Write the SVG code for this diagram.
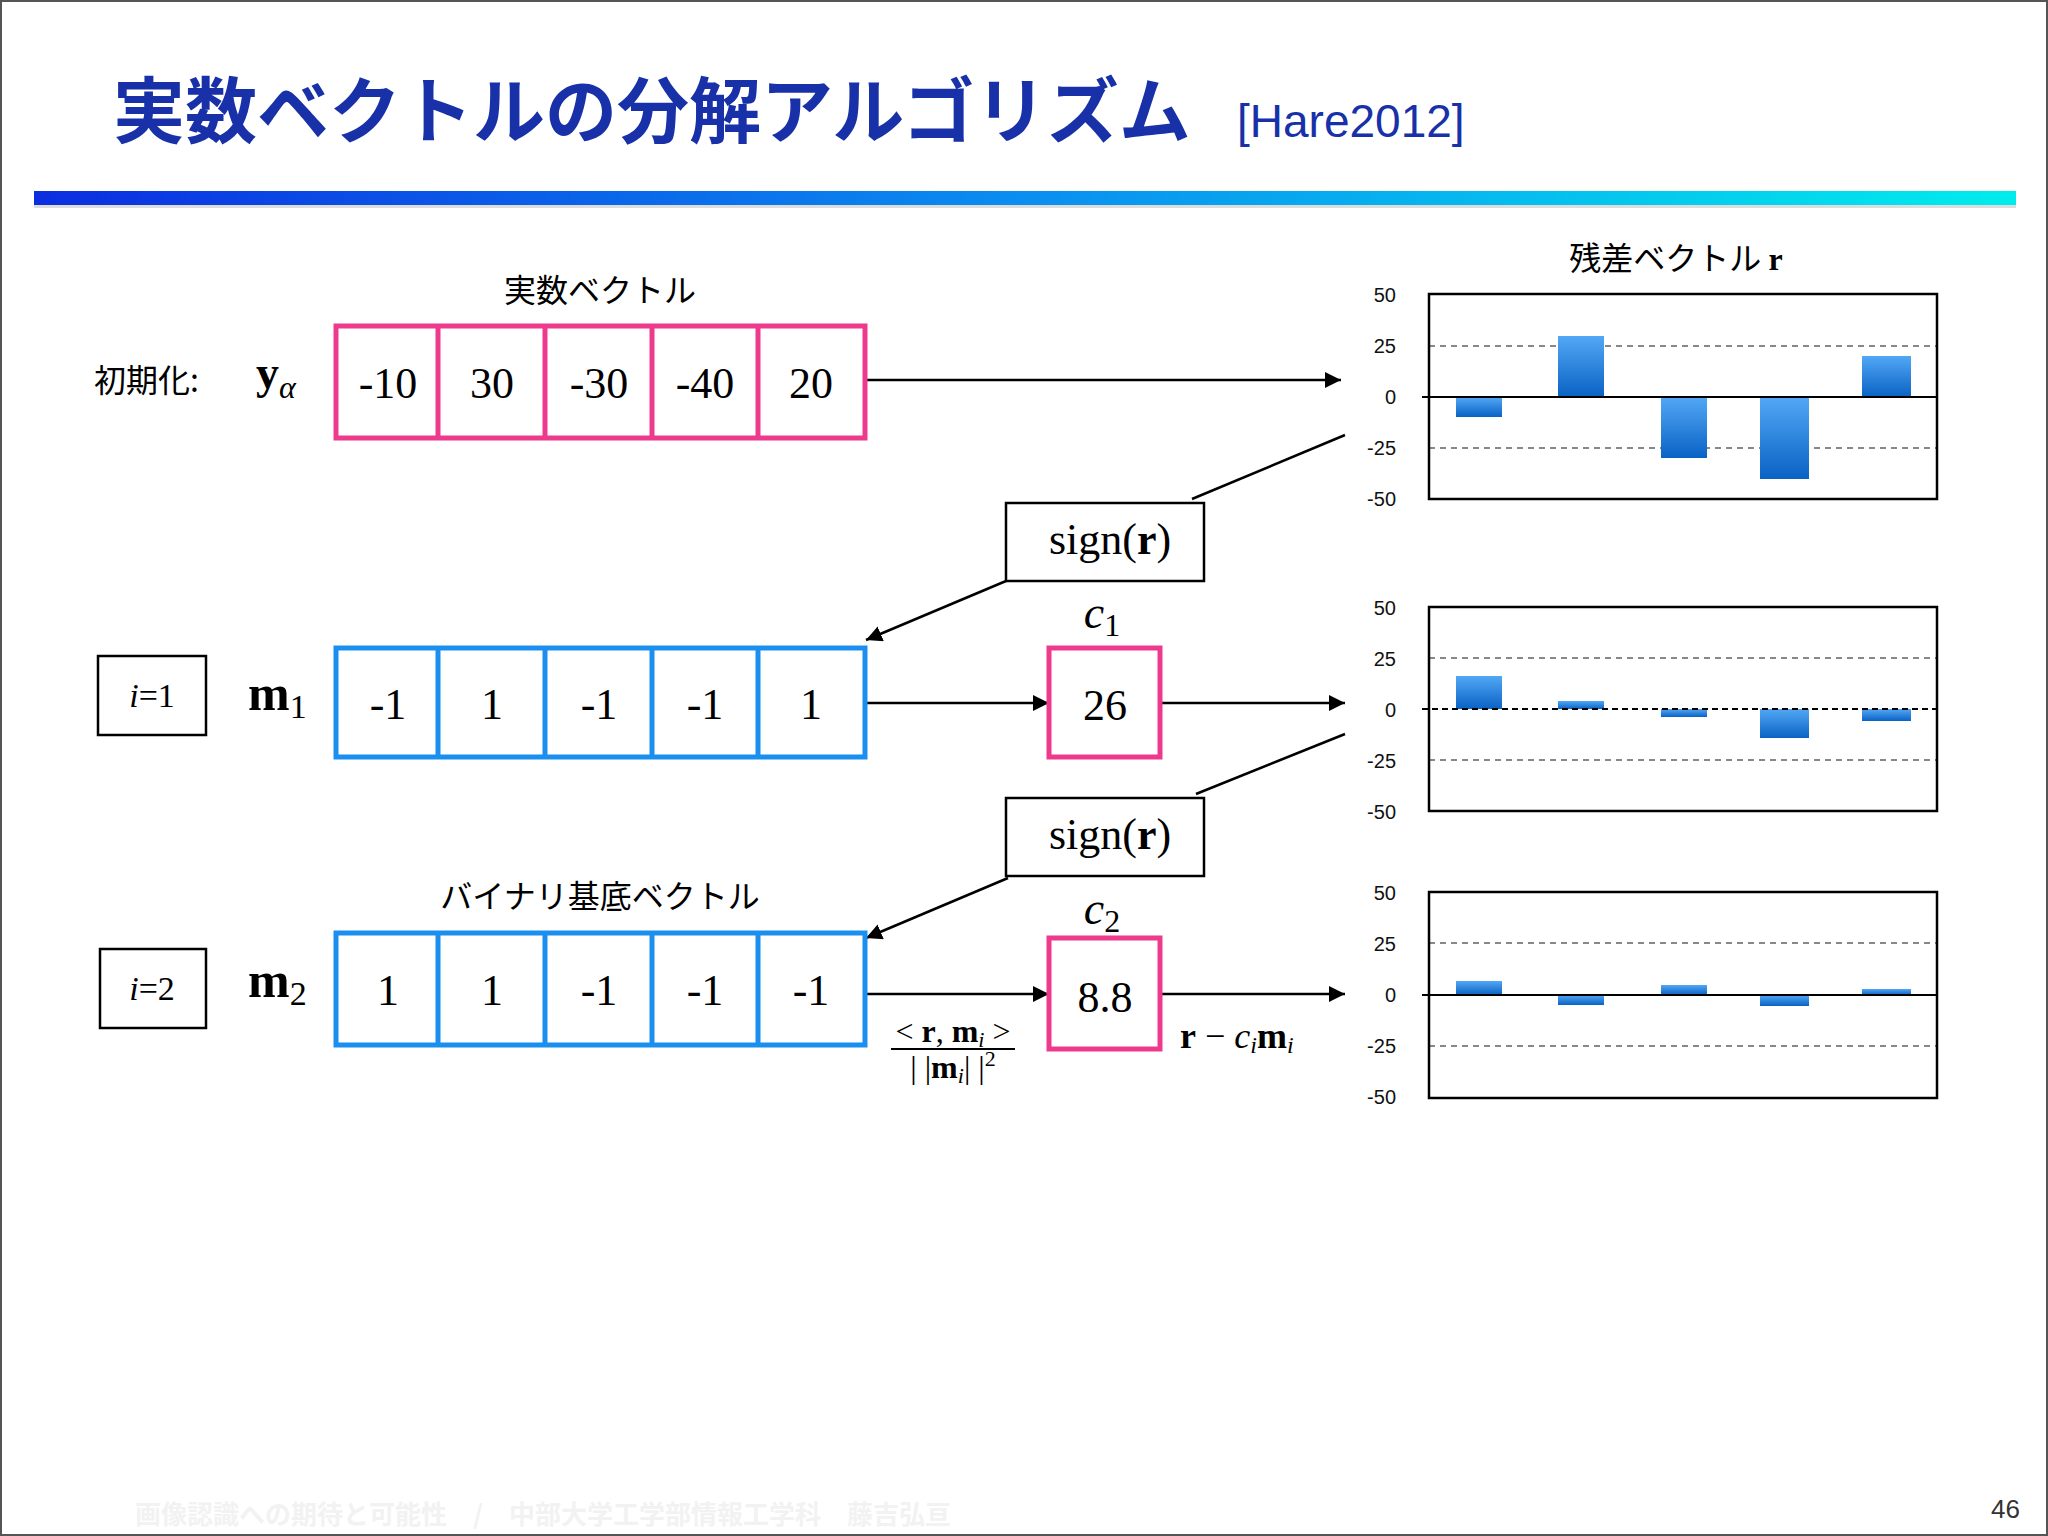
<svg xmlns="http://www.w3.org/2000/svg" width="2048" height="1536" viewBox="0 0 2048 1536">
<defs>
<linearGradient id="hdr" x1="0" x2="1" y1="0" y2="0"><stop offset="0" stop-color="#0b2ee0"/><stop offset="0.5" stop-color="#0a8ef0"/><stop offset="1" stop-color="#00ecec"/></linearGradient>
<linearGradient id="bar" x1="0" x2="0" y1="0" y2="1"><stop offset="0" stop-color="#52a8f5"/><stop offset="1" stop-color="#0a62c4"/></linearGradient>
<marker id="ah2" viewBox="0 0 10 10" refX="10" refY="5" markerWidth="16" markerHeight="16" markerUnits="userSpaceOnUse" orient="auto"><path d="M0,0 L10,5 L0,10 z" fill="#000"/></marker>
</defs>
<style>
.jp{font-family:"Noto Sans CJK JP","Noto Sans",sans-serif}
.sf{font-family:"Liberation Serif","DejaVu Serif",serif}
.ss{font-family:"Liberation Sans",Arial,sans-serif}
.pk{fill:none;stroke:#ee3a8c;stroke-width:5}
.bl{fill:none;stroke:#1a8ff0;stroke-width:5}
.bx{fill:#fff;stroke:#000;stroke-width:2.5}
.cell{font-size:44px;text-anchor:middle;fill:#000}
.ax{font-size:20px;text-anchor:end;fill:#111}
.ln{stroke:#000;stroke-width:2.5;fill:none}
.dash{stroke:#888;stroke-width:2;stroke-dasharray:6 5}
.frame{fill:none;stroke:#000;stroke-width:2.5}
</style>
<rect width="2048" height="1536" fill="#fff"/>
<rect x="1" y="1" width="2046" height="1534" fill="none" stroke="#555" stroke-width="2"/>
<text x="113" y="137" class="jp" font-size="72" font-weight="bold" fill="#1830a8">実数ベクトルの分解アルゴリズム</text>
<text x="1237" y="137" class="ss" font-size="46" fill="#1830a8">[Hare2012]</text>
<rect x="34" y="196" width="1982" height="12" fill="#bbb" opacity="0.5"/>
<rect x="34" y="191" width="1982" height="14" fill="url(#hdr)"/>
<text x="135" y="1524" class="jp" font-size="26" font-weight="bold" fill="#f2f2f2">画像認識への期待と可能性　/　中部大学工学部情報工学科　藤吉弘亘</text>
<text x="2020" y="1518" class="ss" font-size="26" text-anchor="end" fill="#333">46</text>

<g id="connectors">
<line class="ln" x1="865" y1="380" x2="1341" y2="380" marker-end="url(#ah2)"/>
<line class="ln" x1="1192" y1="499" x2="1345" y2="435"/>
<line class="ln" x1="1006" y1="581" x2="866" y2="640" marker-end="url(#ah2)"/>
<line class="ln" x1="865" y1="703" x2="1049" y2="703" marker-end="url(#ah2)"/>
<line class="ln" x1="1160" y1="703" x2="1345" y2="703" marker-end="url(#ah2)"/>
<line class="ln" x1="1196" y1="794" x2="1345" y2="734"/>
<line class="ln" x1="1008" y1="878" x2="866" y2="938" marker-end="url(#ah2)"/>
<line class="ln" x1="865" y1="994" x2="1049" y2="994" marker-end="url(#ah2)"/>
<line class="ln" x1="1160" y1="994" x2="1345" y2="994" marker-end="url(#ah2)"/>
</g>

<g id="ya">
<text x="600" y="302" class="jp" font-size="32" text-anchor="middle">実数ベクトル</text>
<text x="94" y="392" class="jp" font-size="32">初期化:</text>
<text x="256" y="388" class="sf" font-size="46" font-weight="bold">y<tspan font-style="italic" font-weight="normal" font-size="32" dy="10">α</tspan></text>
<rect class="pk" x="336" y="326" width="529" height="112"/>
<path class="pk" d="M438,326V438M545,326V438M652,326V438M758,326V438"/>
<g class="sf cell"><text x="388" y="398">-10</text><text x="492" y="398">30</text><text x="599" y="398">-30</text><text x="705" y="398">-40</text><text x="811" y="398">20</text></g>
</g>

<g id="i1"><rect class="bx" x="98" y="656" width="108" height="79"/><text x="152" y="707" class="sf" font-size="34" text-anchor="middle"><tspan font-style="italic">i</tspan>=1</text></g>
<g id="m1">
<text x="248" y="710" class="sf" font-size="50" font-weight="bold">m<tspan font-weight="normal" font-size="34" dy="8">1</tspan></text>
<rect class="bl" x="336" y="648" width="529" height="109"/>
<path class="bl" d="M438,648V757M545,648V757M652,648V757M758,648V757"/>
<g class="sf cell"><text x="388" y="719">-1</text><text x="492" y="719">1</text><text x="599" y="719">-1</text><text x="705" y="719">-1</text><text x="811" y="719">1</text></g>
</g>
<g id="sign1"><rect class="bx" x="1006" y="503" width="198" height="78"/><text x="1110" y="554" class="sf" font-size="44" text-anchor="middle">sign(<tspan font-weight="bold">r</tspan>)</text></g>
<g id="c1"><text x="1102" y="628" class="sf" font-size="46" font-style="italic" text-anchor="middle">c<tspan font-style="normal" font-size="32" dy="8">1</tspan></text>
<rect class="pk" x="1049" y="648" width="111" height="109"/><text x="1105" y="720" class="sf cell">26</text></g>

<g id="sign2"><rect class="bx" x="1006" y="798" width="198" height="78"/><text x="1110" y="849" class="sf" font-size="44" text-anchor="middle">sign(<tspan font-weight="bold">r</tspan>)</text></g>
<g id="i2"><rect class="bx" x="100" y="949" width="106" height="79"/><text x="152" y="1000" class="sf" font-size="34" text-anchor="middle"><tspan font-style="italic">i</tspan>=2</text></g>
<g id="m2">
<text x="600" y="908" class="jp" font-size="32" text-anchor="middle">バイナリ基底ベクトル</text>
<text x="248" y="997" class="sf" font-size="50" font-weight="bold">m<tspan font-weight="normal" font-size="34" dy="8">2</tspan></text>
<rect class="bl" x="336" y="933" width="529" height="112"/>
<path class="bl" d="M438,933V1045M545,933V1045M652,933V1045M758,933V1045"/>
<g class="sf cell"><text x="388" y="1005">1</text><text x="492" y="1005">1</text><text x="599" y="1005">-1</text><text x="705" y="1005">-1</text><text x="811" y="1005">-1</text></g>
</g>
<g id="c2"><text x="1102" y="924" class="sf" font-size="46" font-style="italic" text-anchor="middle">c<tspan font-style="normal" font-size="32" dy="8">2</tspan></text>
<rect class="pk" x="1049" y="938" width="111" height="111"/><text x="1105" y="1012" class="sf cell">8.8</text></g>
<g id="frac">
<text x="953" y="1042" class="sf" font-size="32" text-anchor="middle">&lt; <tspan font-weight="bold">r</tspan>, <tspan font-weight="bold">m</tspan><tspan font-style="italic" font-size="22" dy="5">i</tspan><tspan dy="-5"> &gt;</tspan></text>
<line x1="891" y1="1049" x2="1015" y2="1049" stroke="#000" stroke-width="2"/>
<text x="953" y="1078" class="sf" font-size="32" text-anchor="middle">| |<tspan font-weight="bold">m</tspan><tspan font-style="italic" font-size="22" dy="5">i</tspan><tspan dy="-5">| |</tspan><tspan font-size="22" dy="-12">2</tspan></text>
<text x="1180" y="1048" class="sf" font-size="36"><tspan font-weight="bold">r</tspan> − <tspan font-style="italic">c</tspan><tspan font-style="italic" font-size="24" dy="5">i</tspan><tspan font-weight="bold" dy="-5">m</tspan><tspan font-style="italic" font-size="24" dy="5">i</tspan></text>
</g>

<g id="chart1">
<text x="1676" y="270" class="jp" font-size="32" text-anchor="middle">残差ベクトル <tspan class="sf" font-weight="bold">r</tspan></text>
<g class="ss ax"><text x="1396" y="302">50</text><text x="1396" y="353">25</text><text x="1396" y="404">0</text><text x="1396" y="455">-25</text><text x="1396" y="506">-50</text></g>
<line class="dash" x1="1429" y1="346" x2="1937" y2="346"/><line class="dash" x1="1429" y1="448" x2="1937" y2="448"/>
<rect x="1456" y="397" width="46" height="20" fill="url(#bar)"/>
<rect x="1558" y="336" width="46" height="61" fill="url(#bar)"/>
<rect x="1661" y="397" width="46" height="61" fill="url(#bar)"/>
<rect x="1760" y="397" width="49" height="82" fill="url(#bar)"/>
<rect x="1862" y="356" width="49" height="41" fill="url(#bar)"/>
<line x1="1422" y1="397" x2="1937" y2="397" stroke="#000" stroke-width="2"/>
<rect class="frame" x="1429" y="294" width="508" height="205"/>
</g>
<g id="chart2">
<g class="ss ax"><text x="1396" y="615">50</text><text x="1396" y="666">25</text><text x="1396" y="717">0</text><text x="1396" y="768">-25</text><text x="1396" y="819">-50</text></g>
<line class="dash" x1="1429" y1="658" x2="1937" y2="658"/><line class="dash" x1="1429" y1="760" x2="1937" y2="760"/>
<rect x="1456" y="676" width="46" height="33" fill="url(#bar)"/>
<rect x="1558" y="701" width="46" height="8" fill="url(#bar)"/>
<rect x="1661" y="709" width="46" height="8" fill="url(#bar)"/>
<rect x="1760" y="709" width="49" height="29" fill="url(#bar)"/>
<rect x="1862" y="709" width="49" height="12" fill="url(#bar)"/>
<line x1="1422" y1="709" x2="1937" y2="709" stroke="#000" stroke-width="2" stroke-dasharray="6 4"/>
<rect class="frame" x="1429" y="607" width="508" height="204"/>
</g>
<g id="chart3">
<g class="ss ax"><text x="1396" y="900">50</text><text x="1396" y="951">25</text><text x="1396" y="1002">0</text><text x="1396" y="1053">-25</text><text x="1396" y="1104">-50</text></g>
<line class="dash" x1="1429" y1="943" x2="1937" y2="943"/><line class="dash" x1="1429" y1="1046" x2="1937" y2="1046"/>
<rect x="1456" y="981" width="46" height="14" fill="url(#bar)"/>
<rect x="1558" y="995" width="46" height="10" fill="url(#bar)"/>
<rect x="1661" y="985" width="46" height="10" fill="url(#bar)"/>
<rect x="1760" y="995" width="49" height="11" fill="url(#bar)"/>
<rect x="1862" y="989" width="49" height="6" fill="url(#bar)"/>
<line x1="1422" y1="995" x2="1937" y2="995" stroke="#000" stroke-width="2"/>
<rect class="frame" x="1429" y="892" width="508" height="206"/>
</g>
</svg>
